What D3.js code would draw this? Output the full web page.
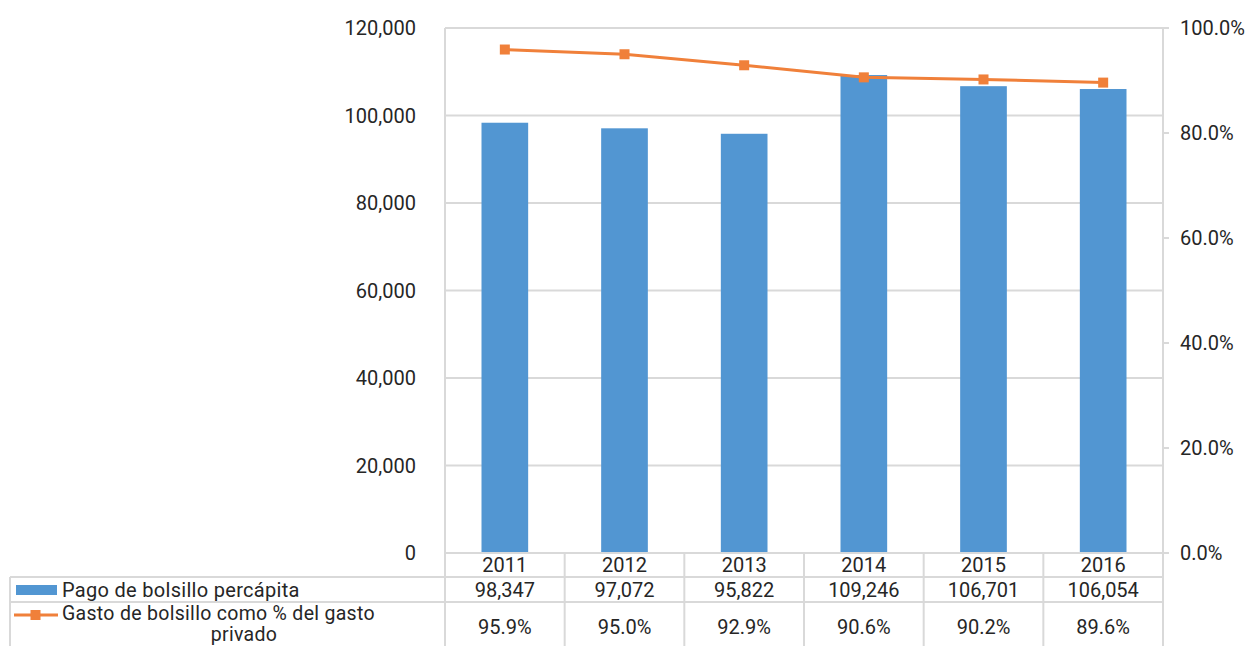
<!DOCTYPE html>
<html>
<head>
<meta charset="utf-8">
<script src="https://cdn.jsdelivr.net/npm/d3@7"></script>
<style>
  body { margin: 0; background: #fff; }
  text { font-family: Roboto, "Liberation Sans", sans-serif; fill: #262626; }
</style>
</head>
<body>
<div id="chart"></div>
<script>
// data
const years = ["2011", "2012", "2013", "2014", "2015", "2016"];
const pagoPercapita = [98347, 97072, 95822, 109246, 106701, 106054];
const gastoPct = [95.9, 95.0, 92.9, 90.6, 90.2, 89.6];
const leftTicks = [0, 20000, 40000, 60000, 80000, 100000, 120000];
const rightTicks = [0, 20, 40, 60, 80, 100];
const seriesNames = ["Pago de bolsillo percápita", "Gasto de bolsillo como % del gasto", "privado"];

let W = 1249, H = 646;
let margin = {top: 28, right: 86, bottom: 93, left: 445};
let plotW = W - margin.left - margin.right,
    plotH = H - margin.top - margin.bottom;

const blue = "#5296d2", orange = "#f0803a", grid = "#d9d9d9";

let svg = d3.select("#chart").append("svg")
    .attr("width", W).attr("height", H);

let x = d3.scaleBand().domain(years).range([margin.left, margin.left + plotW]).padding(0);
let yL = d3.scaleLinear().domain([0, 120000]).range([margin.top + plotH, margin.top]);
let yR = d3.scaleLinear().domain([0, 100]).range([margin.top + plotH, margin.top]);

let fmtNum = d3.format(",");
let fmtPct = d => d3.format(".1f")(d) + "%";

// gridlines
svg.append("g").selectAll("line")
    .data(leftTicks.slice(1))
    .join("line")
    .attr("x1", margin.left).attr("x2", margin.left + plotW)
    .attr("y1", d => yL(d)).attr("y2", d => yL(d))
    .attr("stroke", grid).attr("stroke-width", 2);

// bars
let barW = x.bandwidth() * 0.39;
svg.append("g").selectAll("rect")
    .data(pagoPercapita)
    .join("rect")
    .attr("x", (d, i) => x(years[i]) + x.bandwidth() / 2 - barW / 2)
    .attr("width", barW)
    .attr("y", d => yL(d))
    .attr("height", d => yL(0) - yL(d))
    .attr("fill", blue);

// line + markers
let line = d3.line()
    .x((d, i) => x(years[i]) + x.bandwidth() / 2)
    .y(d => yR(d));
svg.append("path")
    .datum(gastoPct)
    .attr("d", line)
    .attr("fill", "none")
    .attr("stroke", orange)
    .attr("stroke-width", 3);
svg.append("g").selectAll("rect")
    .data(gastoPct)
    .join("rect")
    .attr("x", (d, i) => x(years[i]) + x.bandwidth() / 2 - 5)
    .attr("y", d => yR(d) - 5)
    .attr("width", 10).attr("height", 10)
    .attr("fill", orange);

// left axis labels
svg.append("g").selectAll("text")
    .data(leftTicks)
    .join("text")
    .attr("x", 416)
    .attr("y", d => yL(d))
    .attr("dy", "0.35em")
    .attr("text-anchor", "end")
    .attr("font-size", 20)
    .text(d => fmtNum(d));

// right axis ticks + labels
svg.append("g").selectAll("line")
    .data(rightTicks)
    .join("line")
    .attr("x1", margin.left + plotW).attr("x2", margin.left + plotW + 6)
    .attr("y1", d => yR(d)).attr("y2", d => yR(d))
    .attr("stroke", grid).attr("stroke-width", 2);
svg.append("g").selectAll("text")
    .data(rightTicks)
    .join("text")
    .attr("x", 1180)
    .attr("y", d => yR(d))
    .attr("dy", "0.35em")
    .attr("font-size", 20)
    .text(d => fmtPct(d));

// data table
let row0 = margin.top + plotH, row1 = row0 + 24, row2 = row1 + 25;
let tableLeft = 10, tableRight = margin.left + plotW;

let tbl = svg.append("g");
// horizontal rules
[[margin.left, row0], [tableLeft, row1], [tableLeft, row2]].forEach(r => {
  tbl.append("line")
      .attr("x1", r[0]).attr("x2", tableRight)
      .attr("y1", r[1]).attr("y2", r[1])
      .attr("stroke", grid).attr("stroke-width", 2);
});
// vertical rules
tbl.selectAll("line.v")
    .data(years.concat(["end"]))
    .join("line")
    .attr("class", "v")
    .attr("x1", (d, i) => i < years.length ? x(d) : tableRight)
    .attr("x2", (d, i) => i < years.length ? x(d) : tableRight)
    .attr("y1", (d, i) => (i === 0 || i === years.length) ? margin.top : row0)
    .attr("y2", H)
    .attr("stroke", grid).attr("stroke-width", 2);
tbl.append("line")
    .attr("x1", tableLeft).attr("x2", tableLeft)
    .attr("y1", row1).attr("y2", H)
    .attr("stroke", grid).attr("stroke-width", 2);

// table cells
tbl.selectAll("text.yr")
    .data(years)
    .join("text")
    .attr("class", "yr")
    .attr("x", d => x(d) + x.bandwidth() / 2)
    .attr("y", row0 + 12).attr("dy", "0.35em")
    .attr("text-anchor", "middle").attr("font-size", 20)
    .text(d => d);
tbl.selectAll("text.v1")
    .data(pagoPercapita)
    .join("text")
    .attr("class", "v1")
    .attr("x", (d, i) => x(years[i]) + x.bandwidth() / 2)
    .attr("y", row1 + 12.5).attr("dy", "0.35em")
    .attr("text-anchor", "middle").attr("font-size", 20)
    .text(d => fmtNum(d));
tbl.selectAll("text.v2")
    .data(gastoPct)
    .join("text")
    .attr("class", "v2")
    .attr("x", (d, i) => x(years[i]) + x.bandwidth() / 2)
    .attr("y", row2 + 25).attr("dy", "0.35em")
    .attr("text-anchor", "middle").attr("font-size", 20)
    .text(d => fmtPct(d));

// legend keys in the table
tbl.append("rect")
    .attr("x", 16).attr("y", row1 + 8)
    .attr("width", 41).attr("height", 10)
    .attr("fill", blue);
tbl.append("line")
    .attr("x1", 14).attr("x2", 58)
    .attr("y1", row2 + 13).attr("y2", row2 + 13)
    .attr("stroke", orange).attr("stroke-width", 3);
tbl.append("rect")
    .attr("x", 30.5).attr("y", row2 + 8)
    .attr("width", 10).attr("height", 10)
    .attr("fill", orange);

// row labels
function label(txt, px, py, anchor, fs) {
  tbl.append("text")
      .attr("x", px).attr("y", py)
      .attr("dy", "0.35em")
      .attr("text-anchor", anchor)
      .attr("font-size", fs)
      .attr("letter-spacing", 0.3)
      .text(txt);
}
label(seriesNames[0], 62, row1 + 12.5, "start", 20);
label(seriesNames[1], 62, row2 + 11, "start", 19.5);
label(seriesNames[2], 244, row2 + 32, "middle", 19.5);
</script>
</body>
</html>
